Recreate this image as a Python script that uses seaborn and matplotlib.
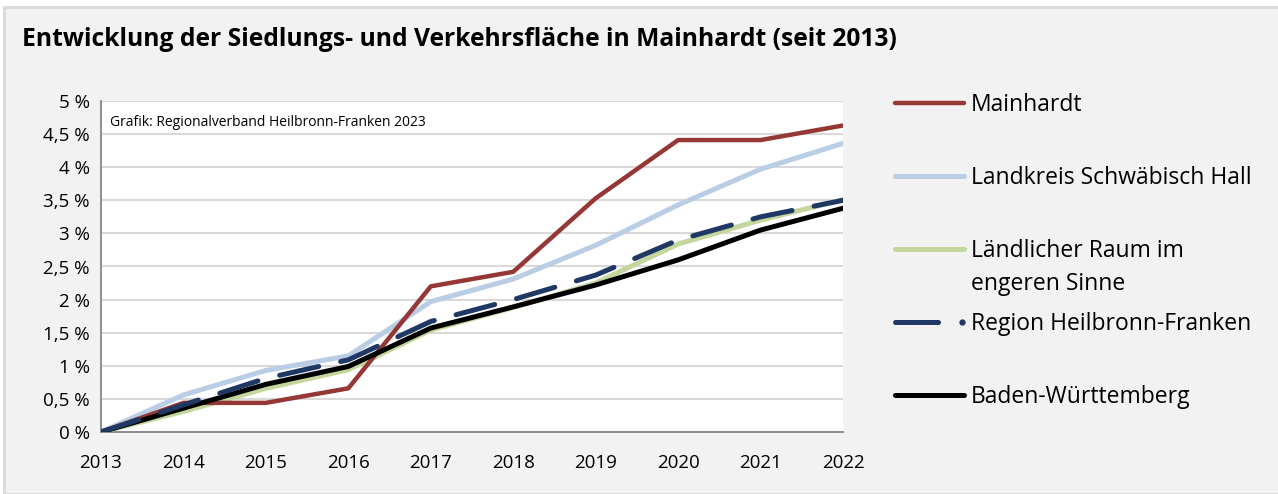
import matplotlib
matplotlib.use("Agg")
import matplotlib.pyplot as plt
import seaborn as sns
import pandas as pd
from matplotlib.patches import Rectangle
from matplotlib.lines import Line2D
from matplotlib.ticker import FuncFormatter

years = [2013, 2014, 2015, 2016, 2017, 2018, 2019, 2020, 2021, 2022]
mainhardt = [0.0, 0.44, 0.44, 0.66, 2.20, 2.42, 3.53, 4.41, 4.41, 4.63]
landkreis_sha = [0.0, 0.56, 0.93, 1.15, 1.97, 2.31, 2.82, 3.43, 3.97, 4.36]
laendlicher_raum = [0.0, 0.31, 0.66, 0.94, 1.54, 1.88, 2.25, 2.84, 3.20, 3.51]
region_hnf = [0.0, 0.41, 0.81, 1.09, 1.67, 2.00, 2.37, 2.90, 3.25, 3.50]
baden_wuerttemberg = [0.0, 0.36, 0.72, 0.99, 1.57, 1.89, 2.22, 2.60, 3.05, 3.38]

series_names = ["Mainhardt", "Landkreis Schwäbisch Hall",
                "Ländlicher Raum im\nengeren Sinne", "Region Heilbronn-Franken",
                "Baden-Württemberg"]
series_values = [mainhardt, landkreis_sha, laendlicher_raum, region_hnf, baden_wuerttemberg]
series_colors = ["#953735", "#b9cde5", "#c3d69b", "#1f3864", "#000000"]
series_widths = [3.2, 3.6, 3.6, 3.6, 3.6]

title = "Entwicklung der Siedlungs- und Verkehrsfläche in Mainhardt (seit 2013)"
source = "Grafik: Regionalverband Heilbronn-Franken 2023"

sns.set_theme(style="white")
plt.rcParams["font.family"] = ["Open Sans", "DejaVu Sans"]

fig = plt.figure(figsize=(12.78, 4.94), dpi=100, facecolor="white")
W, H = 1278, 494

def fx(px):
    return px / W

def fy(py):
    return 1 - py / H

# framed grey panel
fig.patches.append(Rectangle((fx(4), 0), 1, fy(7), transform=fig.transFigure,
                             facecolor="#f2f2f2", edgecolor="#d9d9d9", linewidth=2,
                             zorder=-10))

ax = fig.add_axes([fx(101), fy(432), fx(843 - 101), (432 - 101) / H])
ax.set_facecolor("white")

df = pd.DataFrame({"Jahr": years})
order = [2, 1, 0, 4, 3]  # drawing order: green, blue, red, black, dashed navy
for i in order:
    df["v"] = series_values[i]
    kw = dict(color=series_colors[i], linewidth=series_widths[i],
              solid_capstyle="round", solid_joinstyle="round", zorder=3 + order.index(i))
    if i == 3:
        kw.update(dashes=(8, 4.5), dash_capstyle="round")
    sns.lineplot(data=df, x="Jahr", y="v", ax=ax, legend=False, **kw)

ax.set_xlim(2013, 2022)
ax.set_ylim(0, 5)
ax.set_xticks(years)
ax.set_yticks([i * 0.5 for i in range(11)])
ax.yaxis.set_major_formatter(FuncFormatter(
    lambda v, p: (f"{v:g}".replace(".", ",")) + " %"))
ax.set_xlabel("")
ax.set_ylabel("")
ax.grid(axis="y", color="#d9d9d9", linewidth=1.5)
ax.set_axisbelow(True)
for s in ["top", "right"]:
    ax.spines[s].set_visible(False)
for s in ["left", "bottom"]:
    ax.spines[s].set_color("#868686")
    ax.spines[s].set_linewidth(1.3)
ax.tick_params(axis="both", which="both", direction="out", length=5, width=1.3,
               color="#868686", labelsize=13.5, labelcolor="black")
ax.tick_params(axis="y", pad=3)
ax.tick_params(axis="x", pad=11)

ax.text(fx(110), fy(122), source, transform=fig.transFigure, fontsize=10,
        ha="left", va="center", color="black")

fig.text(fx(22), fy(46), title, fontsize=17.7, fontweight="bold",
         ha="left", va="baseline", color="black")

# legend drawn beside the plot
legend_y = [103, 176, 249, 322, 395]
for i, name in enumerate(series_names):
    y = legend_y[i]
    if i == 3:
        fig.lines.append(Line2D([fx(895), fx(938)], [fy(y), fy(y)],
                                transform=fig.transFigure, color=series_colors[i],
                                linewidth=3.6, solid_capstyle="round"))
        fig.lines.append(Line2D([fx(962)], [fy(y)], transform=fig.transFigure,
                                color=series_colors[i], marker="o", markersize=3.5,
                                linestyle="none"))
    else:
        fig.lines.append(Line2D([fx(895), fx(964)], [fy(y), fy(y)],
                                transform=fig.transFigure, color=series_colors[i],
                                linewidth=series_widths[i], solid_capstyle="round"))
    for k, line in enumerate(name.split("\n")):
        fig.text(fx(971), fy(y + 8 + 33 * k), line, fontsize=16.5, ha="left",
                 va="baseline", color="black")

fig.savefig("out.png", dpi=100, facecolor=fig.get_facecolor())
